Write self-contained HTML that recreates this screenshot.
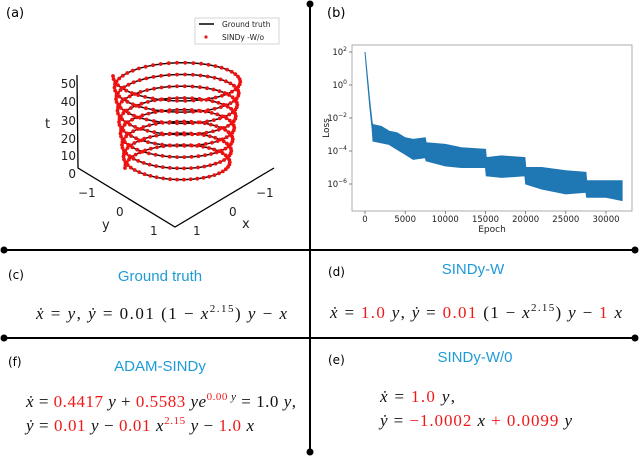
<!DOCTYPE html>
<html><head><meta charset="utf-8">
<style>
html,body{margin:0;padding:0;background:#fff;}
svg{display:block;}
.lab{font-family:"DejaVu Sans","Liberation Sans",sans-serif;}
.tk{font-family:"DejaVu Sans","Liberation Sans",sans-serif;fill:#222;}
.ttl{font-family:"Liberation Sans",sans-serif;fill:#1e9bd7;font-size:15px;}
.eq{font-family:"Liberation Serif",serif;font-size:17px;fill:#111;}
.r{fill:#f01818;}
.i{font-style:italic;}
</style></head>
<body>
<svg id="fig" width="640" height="458" viewBox="0 0 640 458" xmlns="http://www.w3.org/2000/svg">
  <g stroke="#000" stroke-width="2">
    <line x1="310" y1="4" x2="310" y2="453"/>
    <line x1="4" y1="250" x2="635" y2="250"/>
    <line x1="4" y1="338" x2="635" y2="338"/>
  </g>
  <g fill="#000">
    <circle cx="310" cy="4" r="3.5"/><circle cx="310" cy="452" r="3.5"/>
    <circle cx="4" cy="250" r="3.5"/><circle cx="635" cy="250" r="3.5"/>
    <circle cx="4" cy="338" r="3.5"/><circle cx="635" cy="338" r="3.5"/>
  </g>

  <!-- panel a -->
  <text x="6" y="17" class="lab" font-size="13">(a)</text>
  <g id="helix"></g>
  <g stroke="#000" stroke-width="1.3" fill="none">
    <polyline points="77,75 78,168 175,227 274,168"/>
  </g>
  <g class="tk" font-size="12" text-anchor="end">
    <text x="76" y="88">50</text><text x="76" y="106">40</text><text x="76" y="125">30</text>
    <text x="76" y="143">20</text><text x="76" y="160">10</text><text x="76" y="178">0</text>
  </g>
  <text x="45" y="128" class="tk" font-size="13">t</text>
  <g class="tk" font-size="12">
    <text x="78" y="197">−1</text><text x="116" y="216">0</text><text x="150" y="235">1</text>
  </g>
  <text x="102" y="229" class="tk" font-size="13">y</text>
  <g class="tk" font-size="12">
    <text x="256" y="197">−1</text><text x="229" y="216">0</text><text x="193" y="235">1</text>
  </g>
  <text x="242" y="228" class="tk" font-size="13">x</text>
  <g>
    <rect x="195" y="18" width="84" height="26" fill="#fff" stroke="#ccc" stroke-width="0.8"/>
    <line x1="199" y1="24" x2="214" y2="24" stroke="#000" stroke-width="1.5"/>
    <text x="222" y="27" class="tk" font-size="7.5">Ground truth</text>
    <circle cx="206" cy="37" r="1.6" fill="#e41a1c"/>
    <text x="222" y="40" class="tk" font-size="7.5">SINDy -W/o</text>
  </g>

  <!-- panel b -->
  <text x="327" y="17" class="lab" font-size="13">(b)</text>
  <g id="lossplot"></g>

  <!-- panel c -->
  <text x="8" y="279" class="lab" font-size="12">(c)</text>
  <text x="160" y="281" class="ttl" text-anchor="middle">Ground truth</text>
  <text x="36" y="319" class="eq" textLength="251" lengthAdjust="spacing"><tspan class="i">ẋ</tspan> = <tspan class="i">y</tspan>, <tspan class="i">ẏ</tspan> = 0.01 (1 − <tspan class="i">x</tspan><tspan dy="-7" font-size="11">2.15</tspan><tspan dy="7">) </tspan><tspan class="i">y</tspan> − <tspan class="i">x</tspan></text>

  <!-- panel d -->
  <text x="328" y="276" class="lab" font-size="12">(d)</text>
  <text x="473" y="274" class="ttl" text-anchor="middle">SINDy-W</text>
  <text x="330" y="318" class="eq" textLength="292" lengthAdjust="spacing"><tspan class="i">ẋ</tspan> = <tspan class="r">1.0</tspan> <tspan class="i">y</tspan>, <tspan class="i">ẏ</tspan> = <tspan class="r">0.01</tspan> (1 − <tspan class="i">x</tspan><tspan dy="-7" font-size="11">2.15</tspan><tspan dy="7">) </tspan><tspan class="i">y</tspan> − <tspan class="r">1</tspan> <tspan class="i">x</tspan></text>

  <!-- panel f -->
  <text x="8" y="366" class="lab" font-size="12">(f)</text>
  <text x="160" y="371" class="ttl" text-anchor="middle">ADAM-SINDy</text>
  <text x="26" y="407" class="eq" textLength="270" lengthAdjust="spacing"><tspan class="i">ẋ</tspan> = <tspan class="r">0.4417</tspan> <tspan class="i">y</tspan> + <tspan class="r">0.5583</tspan> <tspan class="i">ye</tspan><tspan dy="-7" font-size="11"><tspan class="r">0.00</tspan> <tspan class="i">y</tspan></tspan><tspan dy="7"> = 1.0 </tspan><tspan class="i">y</tspan>,</text>
  <text x="26" y="431" class="eq" textLength="228" lengthAdjust="spacing"><tspan class="i">ẏ</tspan> = <tspan class="r">0.01</tspan> <tspan class="i">y</tspan> − <tspan class="r">0.01</tspan> <tspan class="i">x</tspan><tspan dy="-7" font-size="11" class="r">2.15</tspan><tspan dy="7"> </tspan><tspan class="i">y</tspan> − <tspan class="r">1.0</tspan> <tspan class="i">x</tspan></text>

  <!-- panel e -->
  <text x="328" y="364" class="lab" font-size="12">(e)</text>
  <text x="475" y="362" class="ttl" text-anchor="middle">SINDy-W/0</text>
  <text x="380" y="402" class="eq" textLength="75" lengthAdjust="spacing"><tspan class="i">ẋ</tspan> = <tspan class="r">1.0</tspan> <tspan class="i">y</tspan>,</text>
  <text x="380" y="426" class="eq" textLength="192" lengthAdjust="spacing"><tspan class="i">ẏ</tspan> = <tspan class="r">−1.0002</tspan> <tspan class="i">x</tspan> <tspan class="r">+ 0.0099</tspan> <tspan class="i">y</tspan></text>
</svg>
<script>
// ---- loss data (log10 loss envelope) ----
const epochs = [0,300,600,900,1000,2000,3000,4000,5000,6000,7500,7600,10000,12000,15000,15100,17000,19900,20000,22000,25000,27500,27600,30000,32000];
const lossUpperLog = [2,0.5,-1,-2.3,-2.4,-2.5,-2.8,-2.9,-3.2,-3.3,-3.2,-3.5,-3.6,-3.8,-3.9,-4.4,-4.3,-4.4,-5.0,-5.0,-5.2,-5.3,-5.8,-5.8,-5.8];
const lossLowerLog = [2,0.3,-1.3,-2.7,-3.4,-3.5,-3.6,-3.9,-4.2,-4.5,-4.4,-4.6,-4.9,-5.0,-5.0,-5.5,-5.6,-5.5,-6.0,-6.3,-6.6,-6.5,-6.8,-6.8,-7.0];
const xTicks = [0,5000,10000,15000,20000,25000,30000];
const yTickExp = [2,0,-2,-4,-6];
// ---- helix data ----
const tMax = 50;
const nLoops = 8;

const NS="http://www.w3.org/2000/svg";
function mk(tag, attrs, parent){const e=document.createElementNS(NS,tag);for(const k in attrs)e.setAttribute(k,attrs[k]);parent.appendChild(e);return e;}

const L=document.getElementById('lossplot');
const X0=352,X1=632,Y0=45,Y1=211;
const xs=v=>365+v*(606-365)/30000;
const ys=lg=>52+(2-lg)*16.5;
const frame=mk('rect',{x:X0,y:Y0,width:X1-X0,height:Y1-Y0,fill:'none',stroke:'#999','stroke-width':0.8},L);


let d='';
epochs.forEach((e,i)=>{d+=(i?'L':'M')+xs(e).toFixed(1)+','+ys(lossUpperLog[i]).toFixed(1);});
for(let i=epochs.length-1;i>=0;i--){d+='L'+xs(epochs[i]).toFixed(1)+','+ys(lossLowerLog[i]).toFixed(1);}
const band=mk('path',{d:d+'Z',fill:'#1f77b4',stroke:'#1f77b4','stroke-width':1},L);


xTicks.forEach(v=>{
  const tl=mk('line',{x1:xs(v),x2:xs(v),y1:Y1,y2:Y1+3,stroke:'#555','stroke-width':0.7},L);
  
  
  const t=mk('text',{x:xs(v),y:Y1+11,'font-size':8.5,'text-anchor':'middle',class:'tk'},L);
  t.textContent=String(v);
  
  
});
yTickExp.forEach(v=>{
  const tl=mk('line',{x1:X0-3,x2:X0,y1:ys(v),y2:ys(v),stroke:'#555','stroke-width':0.7},L);
  
  
  const t=mk('text',{x:X0-5,y:ys(v)+3,'font-size':8.5,'text-anchor':'end',class:'tk'},L);
  
  
  t.appendChild(document.createTextNode('10'));
  const s=mk('tspan',{dy:-4,'font-size':6},t);s.textContent=(v<0?'−':'')+Math.abs(v);
});
const ex=mk('text',{x:492,y:232,'font-size':9,'text-anchor':'middle',class:'tk'},L);ex.textContent='Epoch';


const ly=mk('text',{x:0,y:0,'font-size':9,'text-anchor':'middle',class:'tk',transform:'translate(329,128) rotate(-90)'},L);ly.textContent='Loss';



const H=document.getElementById('helix');
function proj(t,th){
  const f=t/tMax;
  const rx=52+12*f, ry=20+2*f, cx=177, cy=168-1.84*t;
  return [cx+rx*Math.cos(th), cy+ry*Math.sin(th)];
}
const N=1200;let hp='';
for(let i=0;i<=N;i++){const t=tMax*i/N;const th=2*Math.PI*nLoops*i/N+Math.PI;const p=proj(t,th);hp+=(i?'L':'M')+p[0].toFixed(1)+','+p[1].toFixed(1);}
const hl=mk('path',{d:hp,fill:'none',stroke:'#111','stroke-width':1.5},H);


const dots=mk('g',{fill:'#ee1111'},H);


const M=nLoops*48;
for(let i=0;i<=M;i++){const t=tMax*i/M;const th=2*Math.PI*nLoops*i/M+Math.PI;const p=proj(t,th);
  const c=mk('circle',{cx:p[0].toFixed(1),cy:p[1].toFixed(1),r:1.9},dots);
  
  
}
</script>
</body></html>
